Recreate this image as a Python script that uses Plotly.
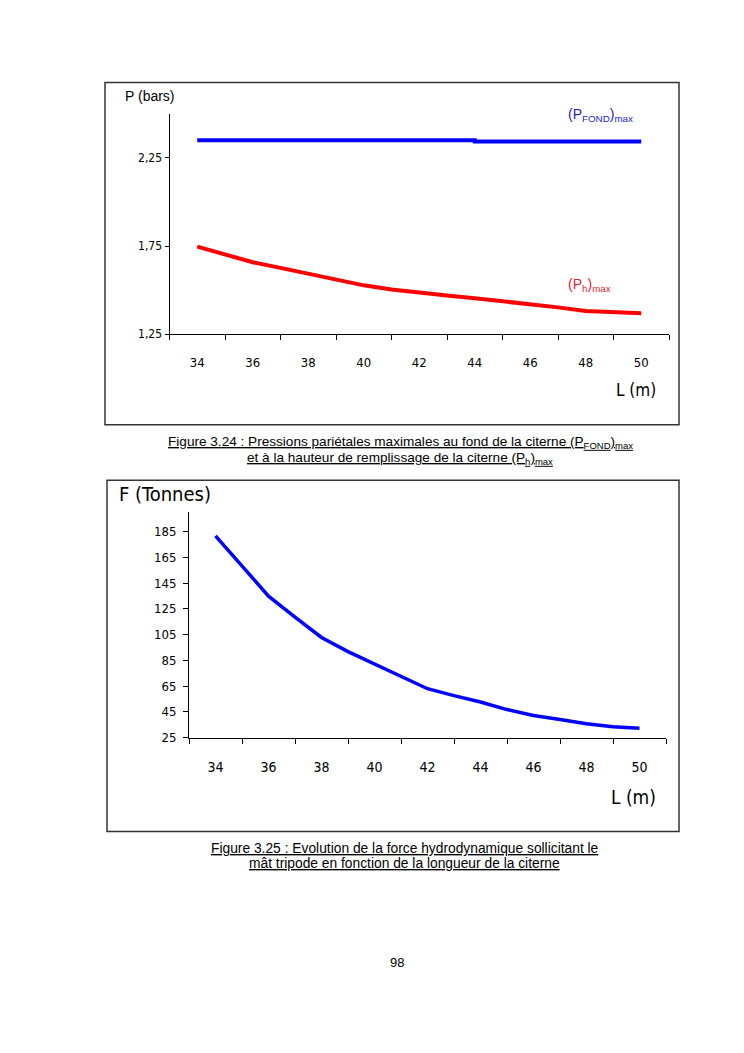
import plotly.graph_objects as go

# data
L = [34, 35, 36, 37, 38, 39, 40, 41, 42, 43, 44, 45, 46, 47, 48, 49, 50]
P_fond = [2.351, 2.351, 2.351, 2.351, 2.351, 2.351, 2.351, 2.351, 2.351, 2.351,
          2.343, 2.343, 2.343, 2.343, 2.343, 2.343, 2.343]
P_h = [1.747, 1.705, 1.658, 1.626, 1.593, 1.559, 1.527, 1.503, 1.484, 1.469,
       1.454, 1.438, 1.422, 1.402, 1.381, 1.372, 1.368]
F = [181.7, 158.6, 134.9, 118.7, 102.8, 91.8, 82.0, 72.5, 63.0, 57.6,
     52.7, 46.8, 42.2, 39.1, 35.8, 33.5, 32.2]

x_labels = [34, 36, 38, 40, 42, 44, 46, 48, 50]
x_bounds = [33, 35, 37, 39, 41, 43, 45, 47, 49, 51]
p_ticks = [1.25, 1.75, 2.25]
p_ticktext = ["1,25", "1,75", "2,25"]
f_ticks = [25, 45, 65, 85, 105, 125, 145, 165, 185]

W, H = 728, 1037   # body margin of 8px in the page
OFF = 8


def xp(px):
    return (px - OFF) / W


def yp(px):
    return 1 - (px - OFF) / H


NARROW = "Liberation Sans Narrow, DejaVu Sans Condensed, Arial Narrow, sans-serif"
ARIAL = "Liberation Sans, Arial, sans-serif"

fig = go.Figure()
fig.add_trace(go.Scatter(x=L, y=P_fond, mode="lines", line_shape="hv",
                         line=dict(color="#0000ff", width=4), xaxis="x", yaxis="y"))
fig.add_trace(go.Scatter(x=L, y=P_h, mode="lines",
                         line=dict(color="#ff0000", width=4), xaxis="x", yaxis="y"))
fig.add_trace(go.Scatter(x=L, y=F, mode="lines",
                         line=dict(color="#0000ff", width=3.5), xaxis="x2", yaxis="y2"))

xcommon = dict(showline=True, linecolor="black", linewidth=1, showgrid=False,
               zeroline=False, tickvals=x_labels, ticks="outside",
               tickcolor="rgba(0,0,0,0)",
               minor=dict(tickvals=x_bounds, ticks="outside", ticklen=5,
                          tickcolor="black", showgrid=False),
               tickfont=dict(family=NARROW, size=13, color="black"))
ycommon = dict(showline=True, linecolor="black", linewidth=1, showgrid=False,
               zeroline=False, ticks="outside", ticklen=4, tickcolor="black",
               tickfont=dict(family=NARROW, size=12, color="black"))

fig.update_layout(
    width=W, height=H, autosize=False,
    margin=dict(l=0, r=0, t=0, b=0),
    paper_bgcolor="white", plot_bgcolor="white",
    showlegend=False,
    xaxis=dict(xcommon, domain=[xp(169.5), xp(669)], range=[33, 51],
               anchor="y", ticklen=16),
    yaxis=dict(ycommon, domain=[yp(336.7), yp(114.7)], range=[1.25, 2.5],
               anchor="x", tickvals=p_ticks, ticktext=p_ticktext),
    xaxis2=dict(xcommon, domain=[xp(189), xp(666)], range=[33, 51],
                anchor="y2", ticklen=17,
                tickfont=dict(family=NARROW, size=14, color="black")),
    yaxis2=dict(ycommon, domain=[yp(743.3), yp(516.3)], range=[25, 200],
                anchor="x2", tickvals=f_ticks, ticklen=5,
                ticklabelstandoff=4,
                tickfont=dict(family=NARROW, size=13, color="black")),
)

# frames around the two charts
fig.add_shape(type="rect", xref="paper", yref="paper",
              x0=xp(105), x1=xp(679), y0=yp(428), y1=yp(83),
              line=dict(color="#333333", width=1.5))
fig.add_shape(type="rect", xref="paper", yref="paper",
              x0=xp(107), x1=xp(679), y0=yp(838), y1=yp(484),
              line=dict(color="#333333", width=1.5))


def note(text, x, y, size, family=ARIAL, color="black", xanchor="left"):
    fig.add_annotation(text=text, xref="paper", yref="paper", x=xp(x), y=yp(y),
                       xanchor=xanchor, yanchor="middle", showarrow=False,
                       font=dict(family=family, size=size, color=color))


note("P (bars)", 123, 97, 14)
note("(P<sub>FOND</sub>)<sub>max</sub>", 566, 116, 14, color="#2323c8")
note("(P<sub>h</sub>)<sub>max</sub>", 566, 287, 14, color="#e0262e")
note("L (m)", 614, 393, 17, family=NARROW)

note("F (Tonnes)", 117, 498, 20, family=NARROW)
note("L (m)", 609, 803, 19, family=NARROW)

note("<u>Figure 3.24 : Pressions pariétales maximales au fond de la citerne "
     "(P<sub>FOND</sub>)<sub>max</sub></u>", 400, 446, 13.6, xanchor="center")
note("<u>et à la hauteur de remplissage de la citerne "
     "(P<sub>h</sub>)<sub>max</sub></u>", 400, 462, 13.6, xanchor="center")
note("<u>Figure 3.25 : Evolution de la force hydrodynamique sollicitant le</u>",
     405, 855, 13.8, xanchor="center")
note("<u>mât tripode en fonction de la longueur de la citerne</u>",
     405, 870, 13.8, xanchor="center")
note("98", 397, 970, 13, xanchor="center")

fig.write_html("out.html")
